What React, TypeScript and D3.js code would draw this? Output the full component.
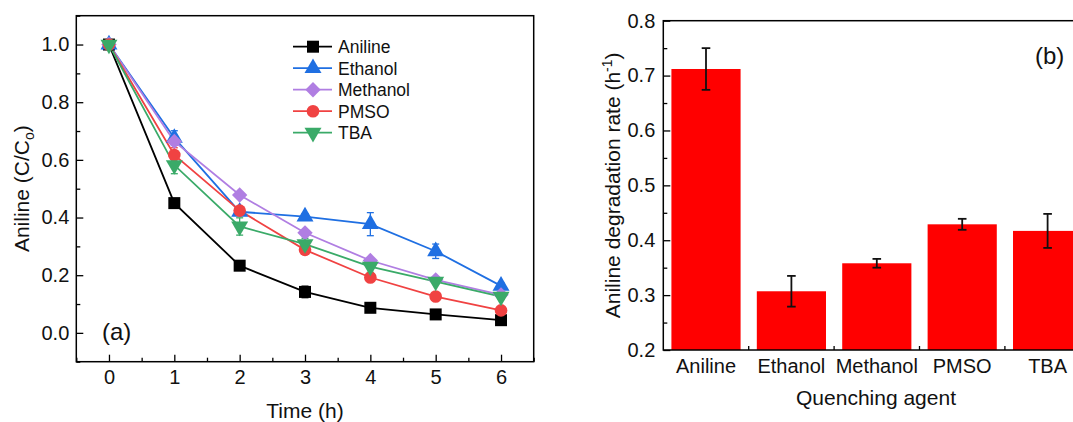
import React, { useRef, useEffect } from "react";
import * as d3 from "d3";

// panel (a): relative concentration over time
const times = [0, 1, 2, 3, 4, 5, 6];
const seriesNames = ["Aniline", "Ethanol", "Methanol", "PMSO", "TBA"];
const anilineVals = [1.0, 0.45, 0.233, 0.142, 0.087, 0.064, 0.044];
const ethanolVals = [1.0, 0.676, 0.42, 0.403, 0.377, 0.283, 0.163];
const methanolVals = [1.0, 0.664, 0.478, 0.347, 0.251, 0.184, 0.132];
const pmsoVals = [1.0, 0.617, 0.424, 0.288, 0.192, 0.126, 0.078];
const tbaVals = [1.0, 0.582, 0.369, 0.308, 0.23, 0.178, 0.126];
const anilineErr = [0.005, 0.008, 0.008, 0.02, 0.016, 0.006, 0.006];
const ethanolErr = [0.005, 0.025, 0.01, 0.01, 0.04, 0.025, 0.01];
const methanolErr = [0.005, 0.01, 0.01, 0.01, 0.01, 0.008, 0.006];
const pmsoErr = [0.005, 0.025, 0.01, 0.01, 0.01, 0.008, 0.006];
const tbaErr = [0.005, 0.03, 0.03, 0.02, 0.02, 0.01, 0.01];
const xTicksA = [0, 1, 2, 3, 4, 5, 6];
const yTicksA = [0.0, 0.2, 0.4, 0.6, 0.8, 1.0];

// panel (b): degradation rate per quenching agent
const agents = ["Aniline", "Ethanol", "Methanol", "PMSO", "TBA"];
const rates = [0.712, 0.307, 0.358, 0.429, 0.417];
const rateErr = [0.038, 0.028, 0.008, 0.01, 0.031];
const yTicksB = [0.2, 0.3, 0.4, 0.5, 0.6, 0.7, 0.8];

const colors = ["#000000", "#1f6fe2", "#b07ee2", "#f04242", "#3aaa68"];
const FONT = "'Liberation Sans', Arial, Helvetica, sans-serif";

const App = () => {
  const svgRef = useRef(null);

  useEffect(() => {
    const svg = d3.select(svgRef.current);
    svg.selectAll("*").remove();

    // ---------- panel (a) ----------
    const x = d3.scaleLinear().domain([-0.5, 6.5]).range([76.3, 533.7]);
    const y = d3.scaleLinear().domain([-0.1, 1.1]).range([361.7, 15.7]);
    const gA = svg.append("g");

    const styleAxis = (g) => {
      g.selectAll("path").remove();
      g.selectAll("line").attr("stroke", "#000").attr("stroke-width", 1.3);
      g.selectAll("text").attr("font-size", 20).attr("font-family", FONT).attr("fill", "#111");
    };

    // minor ticks
    gA.append("g")
      .attr("transform", `translate(0,${y(-0.1)})`)
      .call(d3.axisBottom(x).tickValues(d3.range(-0.5, 6.6, 1)).tickSize(-4).tickFormat(() => ""))
      .call(styleAxis);
    gA.append("g")
      .attr("transform", `translate(${x(-0.5)},0)`)
      .call(d3.axisLeft(y).tickValues(d3.range(-0.1, 1.11, 0.2)).tickSize(-4).tickFormat(() => ""))
      .call(styleAxis);
    // major ticks
    gA.append("g")
      .attr("transform", `translate(0,${y(-0.1)})`)
      .call(d3.axisBottom(x).tickValues(xTicksA).tickSize(-7).tickPadding(8).tickFormat(d3.format("d")))
      .call(styleAxis);
    gA.append("g")
      .attr("transform", `translate(${x(-0.5)},0)`)
      .call(d3.axisLeft(y).tickValues(yTicksA).tickSize(-7).tickPadding(7).tickFormat(d3.format(".1f")))
      .call(styleAxis);

    gA.append("rect")
      .attr("x", x(-0.5)).attr("y", y(1.1))
      .attr("width", x(6.5) - x(-0.5)).attr("height", y(-0.1) - y(1.1))
      .attr("fill", "none").attr("stroke", "#000").attr("stroke-width", 1.5);

    const allVals = [anilineVals, ethanolVals, methanolVals, pmsoVals, tbaVals];
    const allErr = [anilineErr, ethanolErr, methanolErr, pmsoErr, tbaErr];
    const symbols = [
      { type: d3.symbolSquare, size: 144, rot: 0 },
      { type: d3.symbolTriangle, size: 125, rot: 0 },
      { type: d3.symbolSquare, size: 118, rot: 45 },
      { type: d3.symbolCircle, size: 125, rot: 0 },
      { type: d3.symbolTriangle, size: 125, rot: 180 },
    ];
    const line = d3.line().x((d, i) => x(times[i])).y((d) => y(d));

    allVals.forEach((vals, s) => {
      gA.append("path")
        .attr("d", line(vals))
        .attr("fill", "none")
        .attr("stroke", colors[s])
        .attr("stroke-width", 1.8);
    });
    allVals.forEach((vals, s) => {
      const eg = gA.append("g").attr("stroke", colors[s]).attr("stroke-width", 1.3);
      vals.forEach((v, i) => {
        const e = allErr[s][i];
        const cx = x(times[i]);
        eg.append("line").attr("x1", cx).attr("x2", cx).attr("y1", y(v - e)).attr("y2", y(v + e));
        [v - e, v + e].forEach((w) => {
          eg.append("line").attr("x1", cx - 3.5).attr("x2", cx + 3.5).attr("y1", y(w)).attr("y2", y(w));
        });
      });
    });
    allVals.forEach((vals, s) => {
      const sym = d3.symbol().type(symbols[s].type).size(symbols[s].size);
      gA.append("g")
        .selectAll("path")
        .data(vals)
        .join("path")
        .attr("d", sym())
        .attr("transform", (d, i) => `translate(${x(times[i])},${y(d)}) rotate(${symbols[s].rot})`)
        .attr("fill", colors[s]);
    });

    // legend
    const leg = gA.append("g");
    seriesNames.forEach((name, s) => {
      const ly = 46.7 + s * 21.5;
      leg.append("line").attr("x1", 293).attr("x2", 332).attr("y1", ly).attr("y2", ly)
        .attr("stroke", colors[s]).attr("stroke-width", 1.8);
      const sym = d3.symbol().type(symbols[s].type).size(symbols[s].size);
      leg.append("path").attr("d", sym())
        .attr("transform", `translate(313,${ly}) rotate(${symbols[s].rot})`)
        .attr("fill", colors[s]);
      leg.append("text").attr("x", 338).attr("y", ly + 6.5)
        .attr("font-size", 17.5).attr("font-family", FONT).attr("fill", "#111").text(name);
    });

    gA.append("text").attr("x", 102).attr("y", 340).attr("font-size", 24)
      .attr("font-family", FONT).attr("fill", "#111").text("(a)");

    gA.append("text").attr("x", (x(-0.5) + x(6.5)) / 2).attr("y", 418)
      .attr("text-anchor", "middle").attr("font-size", 21).attr("font-family", FONT)
      .attr("fill", "#111").text("Time (h)");

    const yt = gA.append("text")
      .attr("transform", `translate(29,${(y(-0.1) + y(1.1)) / 2}) rotate(-90)`)
      .attr("text-anchor", "middle").attr("font-size", 21).attr("font-family", FONT).attr("fill", "#111");
    yt.append("tspan").text("Aniline (C/C");
    yt.append("tspan").attr("font-size", 14).attr("dy", 5).text("o");
    yt.append("tspan").attr("dy", -5).text(")");

    // ---------- panel (b) ----------
    const xb = d3.scaleBand().domain(agents).range([663.3, 1090.3]).paddingInner(0.19).paddingOuter(0.095);
    const yb = d3.scaleLinear().domain([0.2, 0.8]).range([350, 20.7]);
    const gB = svg.append("g");

    gB.append("g")
      .attr("transform", `translate(${xb.range()[0]},0)`)
      .call(d3.axisLeft(yb).tickValues(d3.range(0.25, 0.8, 0.1)).tickSize(-4).tickFormat(() => ""))
      .call(styleAxis);
    gB.append("g")
      .attr("transform", `translate(${xb.range()[0]},0)`)
      .call(d3.axisLeft(yb).tickValues(yTicksB).tickSize(-7).tickPadding(8).tickFormat(d3.format(".1f")))
      .call(styleAxis);

    // ticks between bars
    const boundaries = agents.slice(1).map((a) => xb(a) - (xb.step() * xb.paddingInner()) / 2);
    gB.append("g").selectAll("line").data(boundaries).join("line")
      .attr("x1", (d) => d).attr("x2", (d) => d)
      .attr("y1", yb(0.2)).attr("y2", yb(0.2) - 4)
      .attr("stroke", "#000").attr("stroke-width", 1.3);

    gB.append("g").selectAll("rect").data(rates).join("rect")
      .attr("x", (d, i) => xb(agents[i]))
      .attr("y", (d) => yb(d))
      .attr("width", xb.bandwidth())
      .attr("height", (d) => yb(0.2) - yb(d))
      .attr("fill", "#ff0000");

    gB.append("rect")
      .attr("x", xb.range()[0]).attr("y", yb(0.8))
      .attr("width", xb.range()[1] - xb.range()[0]).attr("height", yb(0.2) - yb(0.8))
      .attr("fill", "none").attr("stroke", "#000").attr("stroke-width", 1.5);

    const ebg = gB.append("g").attr("stroke", "#111").attr("stroke-width", 1.8);
    rates.forEach((r, i) => {
      const cx = xb(agents[i]) + xb.bandwidth() / 2;
      const e = rateErr[i];
      ebg.append("line").attr("x1", cx).attr("x2", cx).attr("y1", yb(r - e)).attr("y2", yb(r + e));
      [r - e, r + e].forEach((w) => {
        ebg.append("line").attr("x1", cx - 4.3).attr("x2", cx + 4.3).attr("y1", yb(w)).attr("y2", yb(w));
      });
    });

    gB.append("g").selectAll("text").data(agents).join("text")
      .attr("x", (d) => xb(d) + xb.bandwidth() / 2)
      .attr("y", yb(0.2) + 23)
      .attr("text-anchor", "middle").attr("font-size", 20).attr("font-family", FONT)
      .attr("fill", "#111").text((d) => d);

    gB.append("text").attr("x", 1035).attr("y", 64).attr("font-size", 24)
      .attr("font-family", FONT).attr("fill", "#111").text("(b)");

    gB.append("text").attr("x", 876).attr("y", 405)
      .attr("text-anchor", "middle").attr("font-size", 21).attr("font-family", FONT)
      .attr("fill", "#111").text("Quenching agent");

    const ybt = gB.append("text")
      .attr("transform", `translate(620,${(yb(0.2) + yb(0.8)) / 2}) rotate(-90)`)
      .attr("text-anchor", "middle").attr("font-size", 21).attr("font-family", FONT).attr("fill", "#111");
    ybt.append("tspan").text("Aniline degradation rate (h");
    ybt.append("tspan").attr("font-size", 14).attr("dy", -8).text("-1");
    ybt.append("tspan").attr("dy", 8).text(")");
  }, []);

  return (
    <svg
      ref={svgRef}
      width={1073}
      height={422}
      style={{ position: "absolute", left: 0, top: 0, background: "#fff" }}
    />
  );
};

export default App;
